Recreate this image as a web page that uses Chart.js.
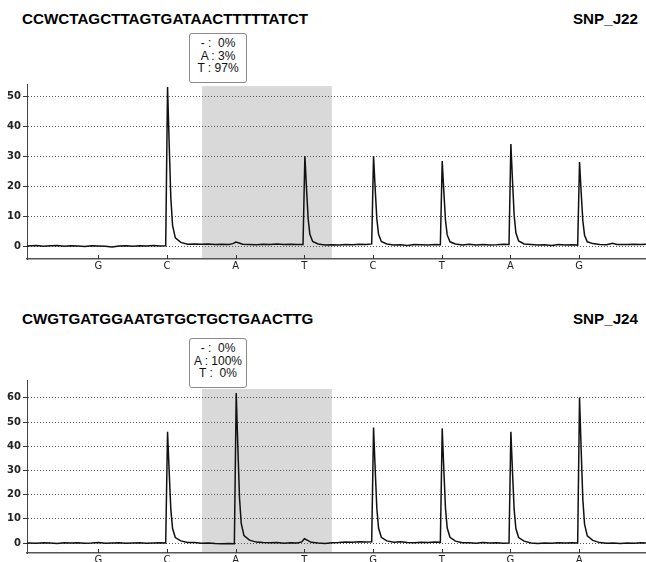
<!DOCTYPE html>
<html>
<head>
<meta charset="utf-8">
<script src="https://cdn.jsdelivr.net/npm/chart.js@4"></script>
<style>
  body { margin: 0; width: 646px; height: 562px; overflow: hidden; background: #fff; position: relative; }
  .wrap { position: absolute; left: 0; width: 646px; }
  .title { position: absolute; font: bold 15.2px "Liberation Sans", Arial, sans-serif; color: #000; white-space: nowrap; line-height: 18px; }
  .box { position: absolute; width: 56px; height: 45px; border: 1px solid #8a8a8a; border-radius: 3px; background: #fff;
         font: 12px "Liberation Sans", Arial, sans-serif; color: #111; line-height: 12.5px; text-align: center;
         white-space: pre; padding-top: 3px; box-sizing: content-box; }
</style>
</head>
<body>
<div class="title" style="left:22px; top:10px;" id="seqJ22"></div>
<div class="title" style="right:8px; top:10px;" id="nameJ22"></div>
<div class="box" style="left:189px; top:33px;" id="boxJ22"></div>
<div class="wrap" style="top:0; height:281px;"><canvas id="chartJ22" width="646" height="281"></canvas></div>

<div class="title" style="left:22px; top:310px;" id="seqJ24"></div>
<div class="title" style="right:8px; top:310px;" id="nameJ24"></div>
<div class="box" style="left:189px; top:338px;" id="boxJ24"></div>
<div class="wrap" style="top:281px; height:294px;"><canvas id="chartJ24" width="646" height="294"></canvas></div>

<script>
// ---- SNP_J22 ----
const seqJ22 = "CCWCTAGCTTAGTGATAACTTTTTATCT";
const flowJ22 = ["G", "C", "A", "T", "C", "T", "A", "G"];
const yTicksJ22 = [0, 10, 20, 30, 40, 50];
const alleleJ22 = ["-", "A", "T"];
const pctJ22 = [0, 3, 97];
const traceXJ22 = [
  -0.04, 0.1, 0.2, 0.3, 0.4, 0.5, 0.6, 0.7, 0.8, 0.9, 1.0, 1.1, 1.2, 1.3, 1.4, 1.5, 1.6, 1.7, 1.8, 1.9, 1.98,
  2.007, 2.03, 2.055, 2.08, 2.12, 2.2, 2.3, 2.4, 2.5, 2.6, 2.7, 2.8, 2.9, 2.96, 3.0, 3.05, 3.1, 3.2, 3.3, 3.4, 3.5, 3.6, 3.7, 3.8, 3.9, 3.98,
  4.007, 4.03, 4.055, 4.08, 4.12, 4.2, 4.3, 4.4, 4.5, 4.6, 4.7, 4.8, 4.9, 4.98,
  5.007, 5.03, 5.055, 5.08, 5.12, 5.2, 5.3, 5.4, 5.5, 5.6, 5.7, 5.8, 5.9, 5.98,
  6.007, 6.03, 6.055, 6.08, 6.12, 6.2, 6.3, 6.4, 6.5, 6.6, 6.7, 6.8, 6.9, 6.98,
  7.007, 7.03, 7.055, 7.08, 7.12, 7.2, 7.3, 7.4, 7.5, 7.6, 7.7, 7.8, 7.9, 7.98,
  8.007, 8.03, 8.055, 8.08, 8.12, 8.2, 8.3, 8.4, 8.49, 8.55, 8.7, 8.8, 8.9, 8.975
];
const traceYJ22 = [
  0, 0.2, -0.1, 0.1, 0.2, -0.1, 0.1, 0, -0.2, 0.1, 0, -0.1, -0.3, 0, 0.1, -0.1, 0.1, 0, 0.2, 0, 0.1,
  53, 34.5, 15.9, 6.9, 2.7, 1.2, 0.6, 0.7, 0.6, 0.7, 0.5, 0.6, 0.5, 0.8, 1.3, 1.0, 0.6, 0.5, 0.4, 0.6, 0.5, 0.7, 0.5, 0.6, 0.5, 0.5,
  30, 19.5, 9, 3.9, 1.5, 0.7, 0.3, 0.4, 0.3, 0.5, 0.4, 0.6, 0.5, 0.7,
  30, 19.5, 9, 3.9, 1.5, 0.7, 0.3, 0.4, 0.2, 0.5, 0.4, 0.3, 0.5, 0.4,
  28.3, 18.4, 8.5, 3.7, 1.4, 0.7, 0.3, 0.6, 0.3, 0.5, 0.3, 0.4, 0.6, 0.5,
  34, 22.1, 10.2, 4.4, 1.7, 0.7, 0.5, 0.3, 0.4, 0.2, 0.5, 0.3, 0.4, 0.3,
  28, 18.2, 8.4, 3.6, 1.4, 0.8, 0.5, 0.4, 0.9, 0.5, 0.5, 0.6, 0.5, 0.6
];

// ---- SNP_J24 ----
const seqJ24 = "CWGTGATGGAATGTGCTGCTGAACTTG";
const flowJ24 = ["G", "C", "A", "T", "G", "T", "G", "A"];
const yTicksJ24 = [0, 10, 20, 30, 40, 50, 60];
const alleleJ24 = ["-", "A", "T"];
const pctJ24 = [0, 100, 0];
const traceXJ24 = [
  -0.04, 0.1, 0.2, 0.3, 0.4, 0.5, 0.6, 0.7, 0.8, 0.9, 1.0, 1.1, 1.2, 1.3, 1.4, 1.5, 1.6, 1.7, 1.8, 1.9, 1.98,
  2.007, 2.03, 2.055, 2.08, 2.12, 2.2, 2.3, 2.4, 2.5, 2.6, 2.7, 2.8, 2.9, 2.98,
  3.007, 3.03, 3.055, 3.08, 3.12, 3.2, 3.3, 3.4, 3.5, 3.6, 3.7, 3.8, 3.9, 3.96, 4.0, 4.04, 4.1, 4.2, 4.3, 4.4, 4.5, 4.6, 4.7, 4.8, 4.9, 4.98,
  5.007, 5.03, 5.055, 5.08, 5.12, 5.2, 5.3, 5.4, 5.5, 5.6, 5.7, 5.8, 5.9, 5.98,
  6.007, 6.03, 6.055, 6.08, 6.12, 6.2, 6.3, 6.4, 6.5, 6.6, 6.7, 6.8, 6.9, 6.98,
  7.007, 7.03, 7.055, 7.08, 7.12, 7.2, 7.3, 7.4, 7.5, 7.6, 7.7, 7.8, 7.9, 7.98,
  8.007, 8.03, 8.055, 8.08, 8.12, 8.2, 8.3, 8.4, 8.5, 8.6, 8.7, 8.8, 8.9, 8.975
];
const traceYJ24 = [
  0, -0.1, 0.1, 0, -0.2, 0.1, 0, 0.1, -0.1, 0, 0.2, -0.1, 0, 0.1, -0.1, 0, 0.1, -0.1, 0, 0.1, 0,
  46, 29.9, 13.8, 6, 2.3, 0.9, 0.2, 0.2, -0.1, 0, -0.2, -0.3, -0.2, -0.3,
  62, 40.3, 18.6, 8.1, 3.1, 1.2, 0.4, 0.2, 0.1, 0.2, -0.1, 0.1, 0, 0.5, 1.8, 1.2, 0.3, 0, -0.2, 0.1, 0.2, 0.4, 0.3, 0.5, 0.4, 0.5,
  47.8, 31.1, 14.3, 6.2, 2.4, 0.9, 0.3, 0.5, 0.2, 0.1, 0.3, 0.2, 0.4, 0.3,
  47.4, 30.8, 14.2, 6.2, 2.4, 0.8, 0.1, 0.1, -0.1, 0.2, 0, 0.1, -0.1, 0,
  46, 29.9, 13.8, 6, 2.3, 0.8, 0, -0.2, 0, -0.1, 0.1, 0, 0.1, 0,
  60.2, 39.1, 18.1, 7.8, 3, 1.1, 0.2, -0.1, 0, -0.2, 0, -0.1, 0.1, 0
];

// shaded SNP window [from, to, top] in flow / signal units
const shadeJ22 = [2.51, 4.40, 53.3];
const shadeJ24 = [2.51, 4.40, 63.7];

// put the texts in
document.getElementById("seqJ22").textContent = seqJ22;
document.getElementById("nameJ22").textContent = "SNP_J22";
document.getElementById("seqJ24").textContent = seqJ24;
document.getElementById("nameJ24").textContent = "SNP_J24";
function boxText(alleles, pcts) {
  return alleles.map((a, i) => a + " : " + (pcts[i] < 10 && a !== "A" ? " " : "") + pcts[i] + "%").join("\n");
}
document.getElementById("boxJ22").textContent = boxText(alleleJ22, pctJ22);
document.getElementById("boxJ24").textContent = boxText(alleleJ24, pctJ24);

const shadePlugin = {
  id: "shade",
  beforeDraw(chart, args, opts) {
    const { ctx, chartArea, scales } = chart;
    const x0 = scales.x.getPixelForValue(opts.range[0]);
    const x1 = scales.x.getPixelForValue(opts.range[1]);
    const top = scales.y.getPixelForValue(opts.range[2]);
    ctx.save();
    ctx.fillStyle = "#d9d9d9";
    ctx.fillRect(x0, top, x1 - x0, chartArea.bottom - top);
    ctx.restore();
  },
};

// small tick marks on the x axis, pointing up into the plot
const innerTicks = {
  id: "innerTicks",
  afterDraw(chart) {
    const { ctx, chartArea, scales } = chart;
    ctx.save();
    ctx.strokeStyle = "#333";
    ctx.lineWidth = 1;
    scales.x.ticks.forEach((t) => {
      const px = Math.round(scales.x.getPixelForValue(t.value)) + 0.5;
      ctx.beginPath();
      ctx.moveTo(px, chartArea.bottom);
      ctx.lineTo(px, chartArea.bottom - 4);
      ctx.stroke();
    });
    ctx.restore();
  },
};

function makeChart(id, xs, ys, flow, yTicks, ymin, ymax, padTop, shade) {
  return new Chart(document.getElementById(id), {
    type: "line",
    data: {
      datasets: [
        {
          data: xs.map((x, i) => ({ x: x, y: ys[i] })),
          borderColor: "#111",
          borderWidth: 1.5,
          pointRadius: 0,
          tension: 0,
          fill: false,
        },
      ],
    },
    options: {
      responsive: false,
      animation: false,
      layout: { padding: { top: padTop, right: 0, left: 0, bottom: 0 } },
      plugins: {
        legend: { display: false },
        tooltip: { enabled: false },
        shade: { range: shade },
      },
      scales: {
        x: {
          type: "linear",
          min: -0.04,
          max: 8.975,
          afterBuildTicks: (s) => { s.ticks = flow.map((_, i) => ({ value: i + 1 })); },
          afterFit: (s) => { s.height = 22; },
          ticks: {
            callback: (v) => flow[v - 1],
            autoSkip: false,
            maxRotation: 0,
            padding: 1,
            color: "#222",
            font: { family: "DejaVu Sans", size: 10 },
          },
          grid: { display: true, drawOnChartArea: false, drawTicks: false },
          border: { display: true, color: "#555", width: 1.5 },
        },
        y: {
          min: ymin,
          max: ymax,
          afterBuildTicks: (s) => { s.ticks = yTicks.map((v) => ({ value: v })); },
          afterFit: (s) => { s.width = 27; },
          ticks: {
            padding: 2,
            color: "#222",
            font: { family: "DejaVu Sans", size: 10, weight: "bold" },
          },
          grid: {
            color: "#555",
            lineWidth: 1,
            tickLength: 4,
            tickColor: "#333",
            tickBorderDash: [],
          },
          border: { display: true, color: "#444", width: 1, dash: [1, 2] },
        },
      },
    },
    plugins: [shadePlugin, innerTicks],
  });
}

makeChart("chartJ22", traceXJ22, traceYJ22, flowJ22, yTicksJ22, -4.33, 54, 84, shadeJ22);
makeChart("chartJ24", traceXJ24, traceYJ24, flowJ24, yTicksJ24, -4.1, 67.4, 99, shadeJ24);
</script>
</body>
</html>
